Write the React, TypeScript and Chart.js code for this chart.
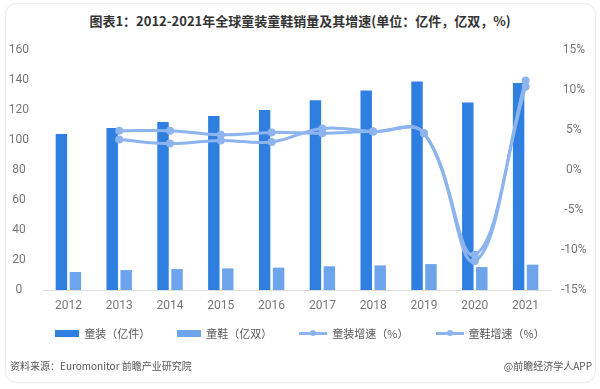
import React, { useEffect, useRef } from "react";
import { Chart, registerables } from "chart.js";

Chart.register(...registerables);

const years = ["2012", "2013", "2014", "2015", "2016", "2017", "2018", "2019", "2020", "2021"];
const clothing = [104, 108, 112, 116, 120, 126.5, 133, 139, 125, 138];
const shoes = [12, 13.3, 14, 14.4, 14.9, 15.8, 16.4, 17.3, 15.3, 16.9];
const clothingGrowth = [null, 3.8, 3.3, 3.7, 3.5, 5.2, 4.8, 4.6, -10.6, 10.4];
const shoesGrowth = [null, 4.9, 4.9, 4.4, 4.7, 4.6, 4.8, 4.6, -11.4, 11.2];
const seriesNames = ["童装（亿件）", "童鞋（亿双）", "童装增速（%）", "童鞋增速（%）"];
const titleText = "图表1：2012-2021年全球童装童鞋销量及其增速(单位：亿件，亿双，%)";
const sourceText = "资料来源：Euromonitor 前瞻产业研究院";
const brandText = "@前瞻经济学人APP";

const C_DARK = "#2f7fe0";
const C_LIGHT = "#6ea4ec";
const C_LINE = "#8db4ee";

const tickFont = { family: "Roboto, 'Noto Sans', sans-serif", size: 12 };

export default function App() {
  const ref = useRef<HTMLCanvasElement | null>(null);

  useEffect(() => {
    if (!ref.current) return;
    const chart = new Chart(ref.current, {
      type: "bar",
      data: {
        labels: years,
        datasets: [
          {
            type: "line",
            label: seriesNames[2],
            data: clothingGrowth as any,
            yAxisID: "y1",
            borderColor: C_LINE,
            backgroundColor: C_LINE,
            borderWidth: 3,
            pointRadius: 2.5,
            pointBackgroundColor: C_LINE,
            pointBorderColor: C_LINE,
            tension: 0.4,
            order: 1,
          },
          {
            type: "line",
            label: seriesNames[3],
            data: shoesGrowth as any,
            yAxisID: "y1",
            borderColor: C_LINE,
            backgroundColor: C_LINE,
            borderWidth: 3,
            pointRadius: 2.5,
            pointBackgroundColor: C_LINE,
            pointBorderColor: C_LINE,
            tension: 0.4,
            order: 1,
          },
          {
            type: "bar",
            label: seriesNames[0],
            data: clothing,
            yAxisID: "y",
            backgroundColor: C_DARK,
            barPercentage: 0.82,
            categoryPercentage: 0.55,
            order: 2,
          },
          {
            type: "bar",
            label: seriesNames[1],
            data: shoes,
            yAxisID: "y",
            backgroundColor: C_LIGHT,
            barPercentage: 0.82,
            categoryPercentage: 0.55,
            order: 2,
          },
        ],
      },
      options: {
        animation: false,
        responsive: false,
        maintainAspectRatio: false,
        layout: { padding: { top: 50, left: 0, right: 0, bottom: 0 } },
        plugins: {
          legend: { display: false },
          title: { display: false },
          tooltip: { enabled: false },
        },
        scales: {
          x: {
            grid: { display: false, drawTicks: false },
            border: { display: true, color: "#dcdcdc", width: 1 },
            ticks: { font: tickFont, color: "#777", padding: 9 },
            afterFit: (s: any) => {
              s.height = 99;
            },
          },
          y: {
            position: "left",
            min: 0,
            max: 160,
            grid: { display: false, drawTicks: false },
            border: { display: false },
            ticks: { stepSize: 20, font: tickFont, color: "#777", padding: 14, crossAlign: "center" },
            afterFit: (s: any) => {
              s.width = 43;
            },
          },
          y1: {
            position: "right",
            min: -15,
            max: 15,
            grid: { display: false, drawTicks: false },
            border: { display: false },
            ticks: {
              stepSize: 5,
              font: tickFont,
              color: "#777",
              padding: 10,
              crossAlign: "center",
              callback: (v: any) => `${v}%`,
            },
            afterFit: (s: any) => {
              s.width = 49;
            },
          },
        },
      },
    });
    return () => chart.destroy();
  }, []);

  const legendItems = [
    { name: seriesNames[0], kind: "box", color: C_DARK },
    { name: seriesNames[1], kind: "box", color: C_LIGHT },
    { name: seriesNames[2], kind: "line", color: C_LINE },
    { name: seriesNames[3], kind: "line", color: C_LINE },
  ];

  const cjk = "'Noto Sans CJK SC', 'Noto Sans', sans-serif";

  return (
    <div
      style={{
        position: "absolute",
        left: 0,
        top: 0,
        width: 600,
        height: 389,
        background: "#fff",
        overflow: "hidden",
      }}
    >
      <div
        style={{
          position: "absolute",
          left: 5,
          top: 3,
          width: 589,
          height: 378,
          border: "1px solid #ececec",
          borderRadius: 12,
          boxShadow: "0 0 3px rgba(0,0,0,0.05)",
          background: "#fff",
        }}
      />
      <div
        style={{
          position: "absolute",
          left: 0,
          top: 12,
          width: 600,
          textAlign: "center",
          fontFamily: cjk,
          fontWeight: 700,
          fontSize: 13,
          lineHeight: "18px",
          color: "#333",
          whiteSpace: "nowrap",
        }}
      >
        {titleText}
      </div>
      <canvas
        ref={ref}
        width={600}
        height={389}
        style={{ position: "absolute", left: 0, top: 0, width: 600, height: 389 }}
      />
      <div
        style={{
          position: "absolute",
          left: 0,
          top: 325,
          width: 600,
          height: 16,
          display: "flex",
          justifyContent: "center",
          alignItems: "center",
          gap: 27,
          fontFamily: cjk,
          fontSize: 11,
          color: "#595959",
          whiteSpace: "nowrap",
        }}
      >
        {legendItems.map((it) => (
          <div key={it.name} style={{ display: "flex", alignItems: "center", gap: 5 }}>
            {it.kind === "box" ? (
              <div style={{ width: 24, height: 7, background: it.color }} />
            ) : (
              <div style={{ position: "relative", width: 28, height: 7 }}>
                <div
                  style={{
                    position: "absolute",
                    left: 0,
                    top: 2,
                    width: 28,
                    height: 3,
                    background: it.color,
                  }}
                />
                <div
                  style={{
                    position: "absolute",
                    left: 11,
                    top: 0,
                    width: 6,
                    height: 6,
                    borderRadius: 3,
                    background: it.color,
                  }}
                />
              </div>
            )}
            <span style={{ lineHeight: "16px" }}>{it.name}</span>
          </div>
        ))}
      </div>
      <div
        style={{
          position: "absolute",
          left: 10,
          top: 359,
          fontFamily: cjk,
          fontSize: 10,
          lineHeight: "14px",
          color: "#555",
          whiteSpace: "nowrap",
        }}
      >
        {sourceText}
      </div>
      <div
        style={{
          position: "absolute",
          right: 8,
          top: 359,
          fontFamily: cjk,
          fontSize: 10,
          lineHeight: "14px",
          color: "#555",
          whiteSpace: "nowrap",
        }}
      >
        {brandText}
      </div>
    </div>
  );
}
